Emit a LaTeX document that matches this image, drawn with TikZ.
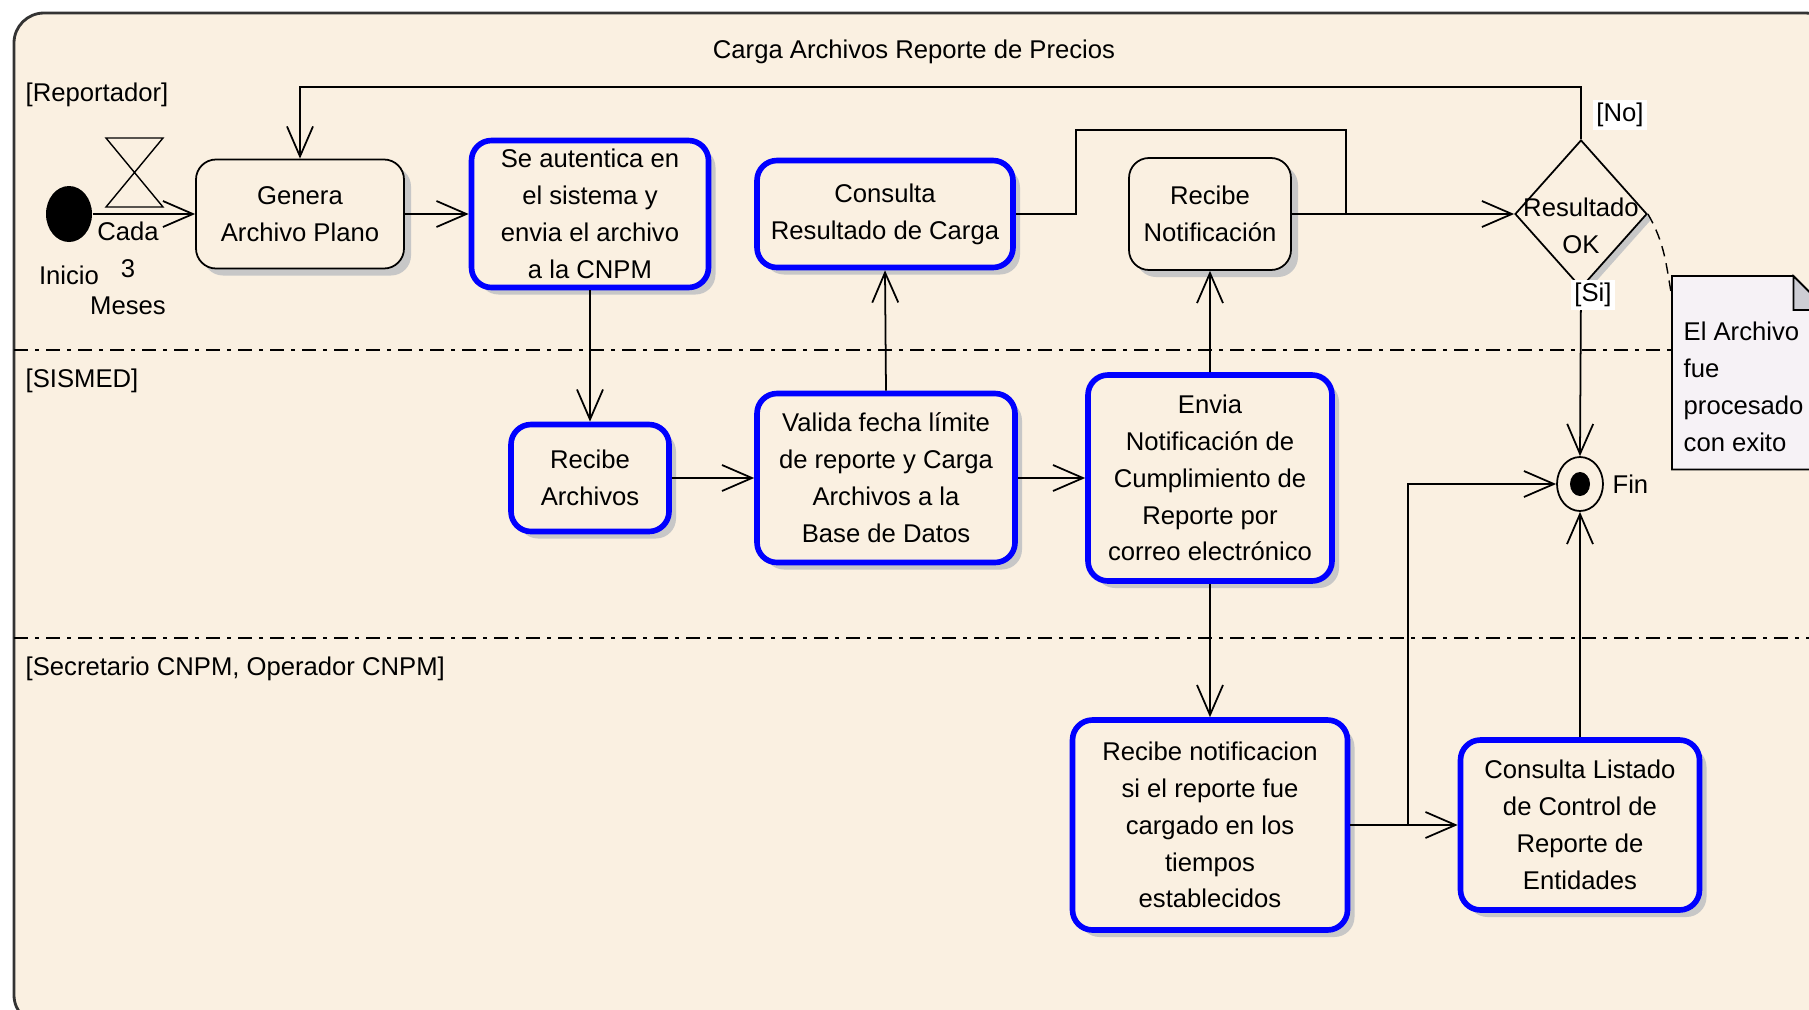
\documentclass[tikz,border=0pt]{standalone}
\usepackage{fontspec}
\setmainfont{Liberation Sans}
\usetikzlibrary{shapes,shadows,arrows.meta}
\definecolor{fondo}{RGB}{250,240,225}
\definecolor{azul}{RGB}{0,0,255}
\definecolor{notafondo}{RGB}{246,242,246}
\definecolor{pliegue}{RGB}{205,205,212}
\tikzstyle{line} = [draw, line width=0.5pt, -{Straight Barb[length=3mm,width=2.6mm]}]
\tikzstyle{flow} = [draw, line width=0.5pt]
\tikzstyle{texto} = [inner sep=0pt, font=\fontsize{7.3}{10.5}\selectfont]
\tikzstyle{accion} = [rectangle, rounded corners=0.2cm, draw, line width=0.5pt, fill=fondo, align=center, inner sep=0pt, font=\fontsize{7.3}{10.5}\selectfont, drop shadow={shadow xshift=0.07cm, shadow yshift=-0.07cm, fill=black!22, opacity=1}]
\tikzstyle{accion_sis} = [accion, draw=azul, line width=1.6pt]
\tikzstyle{decision} = [diamond, draw, line width=0.5pt, fill=fondo, inner sep=0pt, minimum width=1.32cm, minimum height=1.48cm, drop shadow={shadow xshift=0.05cm, shadow yshift=-0.05cm, fill=black!22, opacity=1}]
\tikzstyle{inicio_nodo} = [ellipse, fill=black, inner sep=0pt, minimum width=0.46cm, minimum height=0.56cm]
\tikzstyle{fin_nodo} = [ellipse, draw, line width=0.5pt, inner sep=0pt, minimum width=0.46cm, minimum height=0.54cm]
\tikzstyle{guarda} = [fill=white, inner sep=1pt, font=\fontsize{7.3}{10.5}\selectfont]
\tikzstyle{marco} = [draw=black!80, line width=0.8pt, fill=fondo, rounded corners=0.3cm]
\tikzstyle{carril} = [draw, line width=0.5pt, dash pattern=on 0.14cm off 0.07cm on 0.04cm off 0.07cm]
\tikzstyle{nota_borde} = [draw, line width=0.5pt, fill=notafondo]

\begin{document}
\begin{tikzpicture}
			\useasboundingbox (0,0) rectangle (18.09,-10.10);
			\clip (0,0) rectangle (18.09,-10.10);
			\path [marco] (0.14,-0.13) rectangle (18.35,-10.25);
			\path [carril] (0.14,-3.50) -- (18.09,-3.50);
			\path [carril] (0.14,-6.38) -- (18.09,-6.38);
			
			\node [texto] (titulo) at (9.14,-0.52) {Carga Archivos Reporte de Precios};
			\node [texto, anchor=west] (reportador) at (0.25,-0.95) {[Reportador]};
			\node [texto, anchor=west] (sismed) at (0.25,-3.81) {[SISMED]};
			\node [texto, anchor=west] (secretario) at (0.25,-6.69) {[Secretario CNPM, Operador CNPM]};
			
			\node [inicio_nodo, label={[texto, label distance=0.22cm]below:Inicio}] (inicio) at (0.69,-2.14) {};
			\path [flow, line width=0.4pt] (1.06,-1.38) -- (1.63,-1.38) -- (1.06,-2.07) -- (1.63,-2.07) -- cycle;
			\node [texto, align=center] (cada) at (1.28,-2.68) {Cada\\3\\Meses};
			
			\node [accion, node distance=2.31cm, right of=inicio, minimum width=2.08cm, minimum height=1.09cm] (genera) {Genera\\Archivo Plano};
			\node [accion_sis, node distance=2.90cm, right of=genera, minimum width=2.37cm, minimum height=1.47cm] (autentica) {Se autentica en\\el sistema y\\envia el archivo\\a la CNPM};
			\node [accion_sis, node distance=2.95cm, right of=autentica, minimum width=2.56cm, minimum height=1.07cm] (consulta) {Consulta\\Resultado de Carga};
			\node [accion, node distance=3.25cm, right of=consulta, minimum width=1.62cm, minimum height=1.12cm] (recibeNotif) {Recibe\\Notificación};
			\node [decision, node distance=3.71cm, right of=recibeNotif] (decision) {};
			\node [texto, align=center, yshift=-0.12cm] (resultado) at (decision) {Resultado\\OK};
			
			\node [accion_sis, node distance=2.64cm, below of=autentica, minimum width=1.58cm, minimum height=1.07cm] (recibeArch) {Recibe\\Archivos};
			\node [accion_sis, node distance=2.96cm, right of=recibeArch, minimum width=2.58cm, minimum height=1.69cm] (valida) {Valida fecha límite\\de reporte y Carga\\Archivos a la\\Base de Datos};
			\node [accion_sis, node distance=3.24cm, right of=valida, minimum width=2.44cm, minimum height=2.06cm] (envia) {Envia\\Notificación de\\Cumplimiento de\\Reporte por\\correo electrónico};
			\node [fin_nodo, node distance=3.70cm, right of=envia, yshift=-0.06cm, label={[texto, label distance=0.08cm]right:Fin}] (fin) {};
			\node [ellipse, fill=black, inner sep=0pt, minimum width=0.2cm, minimum height=0.24cm] (finPunto) at (fin) {};
			
			\node [accion_sis, node distance=3.47cm, below of=envia, minimum width=2.75cm, minimum height=2.10cm] (recibeNotificacion) {Recibe notificacion\\si el reporte fue\\cargado en los\\tiempos\\establecidos};
			\node [accion_sis, node distance=3.70cm, right of=recibeNotificacion, minimum width=2.39cm, minimum height=1.70cm] (listado) {Consulta Listado\\de Control de\\Reporte de\\Entidades};
			
			\node [anchor=north west, inner sep=0pt, minimum width=1.54cm, minimum height=1.92cm] (nota) at (16.72,-2.76) {};
			\path [nota_borde] (nota.north west) -- ([xshift=-0.34cm]nota.north east) -- ([yshift=-0.34cm]nota.north east) -- (nota.south east) -- (nota.south west) -- cycle;
			\path [nota_borde, fill=pliegue] ([xshift=-0.34cm]nota.north east) -- ([xshift=-0.34cm,yshift=-0.34cm]nota.north east) -- ([yshift=-0.34cm]nota.north east) -- cycle;
			\node [texto, anchor=north west, align=left] (notaTexto) at (16.83,-3.21) {El Archivo\\fue\\procesado\\con exito};
			
			\coordinate (codo) at (10.76,-1.30);
			\coordinate (union) at (13.46,-2.14);
			\coordinate (rama) at (14.08,-8.25);
			\coordinate (notaPunto) at (16.72,-2.98);
			
			\path [line] (inicio.east) to (genera.west);
			\path [line] (genera.east) to (autentica.west);
			\path [line] (autentica.south) to (recibeArch.north);
			\path [line] (recibeArch.east) to (valida.west);
			\path [line] (valida.north) to (consulta.south);
			\path [line] (valida.east) to (envia.west);
			\path [line] (envia.north) to (recibeNotif.south);
			\path [line] (envia.south) to (recibeNotificacion.north);
			\path [flow] (consulta.east) -| (codo) -| (union);
			\path [line] (recibeNotif.east) to (decision.west);
			\path [line] (decision.north) -- ++(0,0.52) -| (genera.north);
			\path [line] (decision.south) to (fin.north);
			\path [line] (recibeNotificacion.east) to (listado.west);
			\path [line] (rama) |- (fin.west);
			\path [line] (listado.north) to (fin.south);
			\draw [densely dashed, line width=0.4pt] (decision.east) to [out=-60, in=100] (notaPunto);
			
			\node [guarda] (no) at (16.20,-1.15) {[No]};
			\node [guarda] (si) at (15.93,-2.95) {[Si]};
		\end{tikzpicture}
\end{document}
